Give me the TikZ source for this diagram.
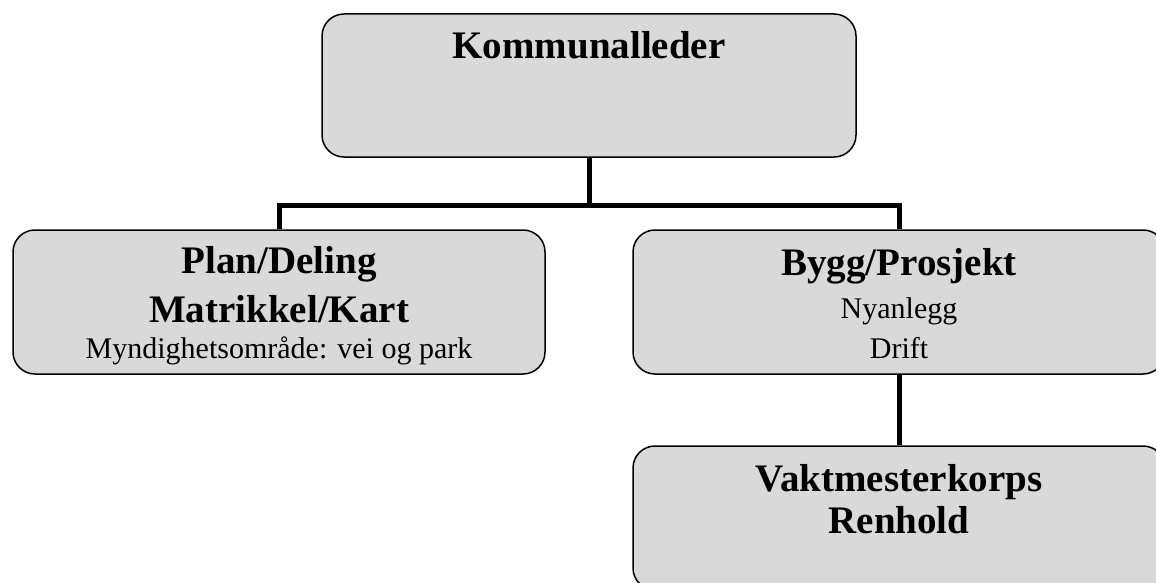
\documentclass[tikz,border=0pt]{standalone}
\usepackage{fontspec}
\setmainfont{Liberation Serif}
\usetikzlibrary{positioning}
\definecolor{boxgray}{RGB}{217,217,217}
\tikzset{
	unit/.style={draw, line width=1.5pt, fill=boxgray, rounded corners=22pt,
		minimum width=532pt, minimum height=144pt, inner sep=0pt},
	head/.style={anchor=base, inner sep=0pt, font=\fontsize{39}{47}\selectfont\bfseries},
	sub/.style={anchor=base, inner sep=0pt, font=\fontsize{30}{36}\selectfont},
	link/.style={line width=5pt}
}

\begin{document}
\begin{tikzpicture}[x=1pt, y=-1pt]
	\useasboundingbox (0,0) rectangle (1156,583);
	
	\node[unit, minimum width=534pt, minimum height=143pt] (chief) at (589,85.5) {};
	\node[unit] (plan) at (279,302) {};
	\node[unit] (build) at (899,302) {};
	\node[unit] (staff) at (899,518) {};
	
	\node[head] (chiefname) at (589,59) {Kommunalleder};
	
	\node[head] (planname) at (279,273) {Plan/Deling};
	\node[head] (cadastre) at (279,322) {Matrikkel/Kart};
	\node[sub] (authority) at (279,358) {Myndighetsområde: vei og park};
	
	\node[head] (buildname) at (899,275) {Bygg/Prosjekt};
	\node[sub] (newworks) at (899,318) {Nyanlegg};
	\node[sub] (operation) at (899,358) {Drift};
	
	\node[head] (janitors) at (899,491) {Vaktmesterkorps};
	\node[head] (cleaning) at (899,533) {Renhold};
	
	\coordinate (fork) at (589,205);
	\draw[link] (chief.south) -- (fork);
	\draw[link] (plan.north) |- (fork) -| (build.north);
	\draw[link] (build.south) -- (staff.north);
	
\end{tikzpicture}
\end{document}
